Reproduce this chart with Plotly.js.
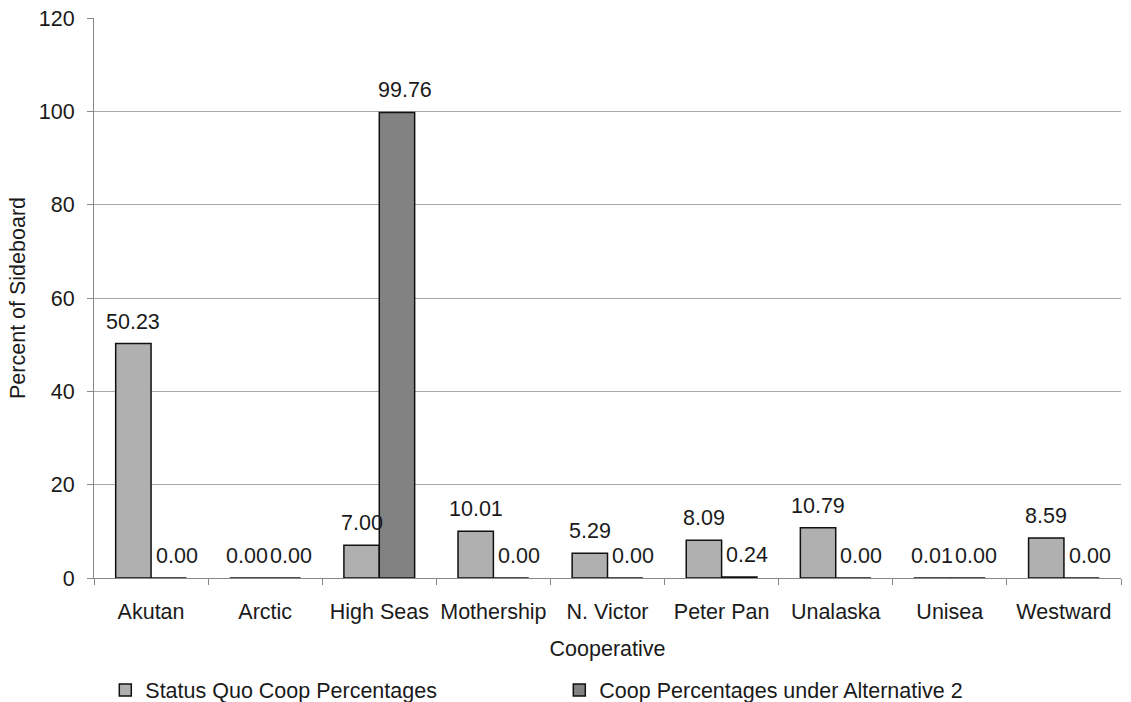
<!DOCTYPE html>
<html><head><meta charset="utf-8">
<script src="https://cdn.plot.ly/plotly-3.0.1.min.js"></script>
<style>body{margin:0;background:#fff}#chart{width:1131px;height:702px}</style>
</head><body><div id="chart"></div>
<script>
const categories = ["Akutan","Arctic","High Seas","Mothership","N. Victor","Peter Pan","Unalaska","Unisea","Westward"];
const statusQuo = [50.23,0.00,7.00,10.01,5.29,8.09,10.79,0.01,8.59];
const alt2 = [0.00,0.00,99.76,0.00,0.00,0.24,0.00,0.00,0.00];
const seriesNames = ["Status Quo Coop Percentages","Coop Percentages under Alternative 2"];
const yTicks = [0,20,40,60,80,100,120];

const W = 1131, H = 702;
const M = {l:94, r:10, t:18, b:124};
const BARGAP = 0.38;
const FS = 21.5;
const font = {family:"Liberation Sans, Arial, sans-serif", size:FS, color:"#1a1a1a"};

// half a bar width in pixels (bars within a group sit side by side)
const halfBar = ((W - M.l - M.r) / categories.length) * (1 - BARGAP) / 4;

const traces = [
  {type:"bar", x:categories, y:statusQuo, name:seriesNames[0],
   marker:{color:"#b0b0b0", line:{color:"#111", width:1.5}}},
  {type:"bar", x:categories, y:alt2, name:seriesNames[1],
   marker:{color:"#828282", line:{color:"#111", width:1.5}}}
];

const annotations = [];
[statusQuo, alt2].forEach((vals, s) => {
  vals.forEach((v, i) => {
    annotations.push({x:categories[i], y:v, xref:"x", yref:"y",
      text:v.toFixed(2), showarrow:false, yanchor:"bottom",
      xshift:(s === 0 ? -halfBar : halfBar + 8), yshift:8,
      font:font});
  });
});

const layout = {
  width:W, height:H,
  margin:M,
  paper_bgcolor:"#fff", plot_bgcolor:"#fff",
  font:font,
  barmode:"group", bargap:BARGAP, bargroupgap:0,
  showlegend:true,
  legend:{orientation:"h", xref:"paper", yref:"container",
    x:0.011, y:0.017, xanchor:"left", yanchor:"middle",
    font:font, entrywidth:409, itemwidth:30},
  xaxis:{title:{text:"Cooperative", font:font, standoff:18},
    showline:true, linecolor:"#888", linewidth:1,
    ticks:"outside", tickson:"boundaries", ticklen:6, tickcolor:"#888",
    ticklabelstandoff:14, tickangle:0,
    tickfont:font, showgrid:false},
  yaxis:{title:{text:"Percent of Sideboard", font:font, standoff:7},
    range:[0,120], tickvals:yTicks, showline:true, linecolor:"#888", linewidth:1,
    ticks:"outside", ticklen:6, tickcolor:"#888", ticklabelstandoff:8,
    showgrid:true, gridcolor:"#a8a8a8", gridwidth:1, zeroline:false,
    tickfont:font},
  annotations:annotations
};
Plotly.newPlot("chart", traces, layout, {displayModeBar:false, staticPlot:true});
</script></body></html>
